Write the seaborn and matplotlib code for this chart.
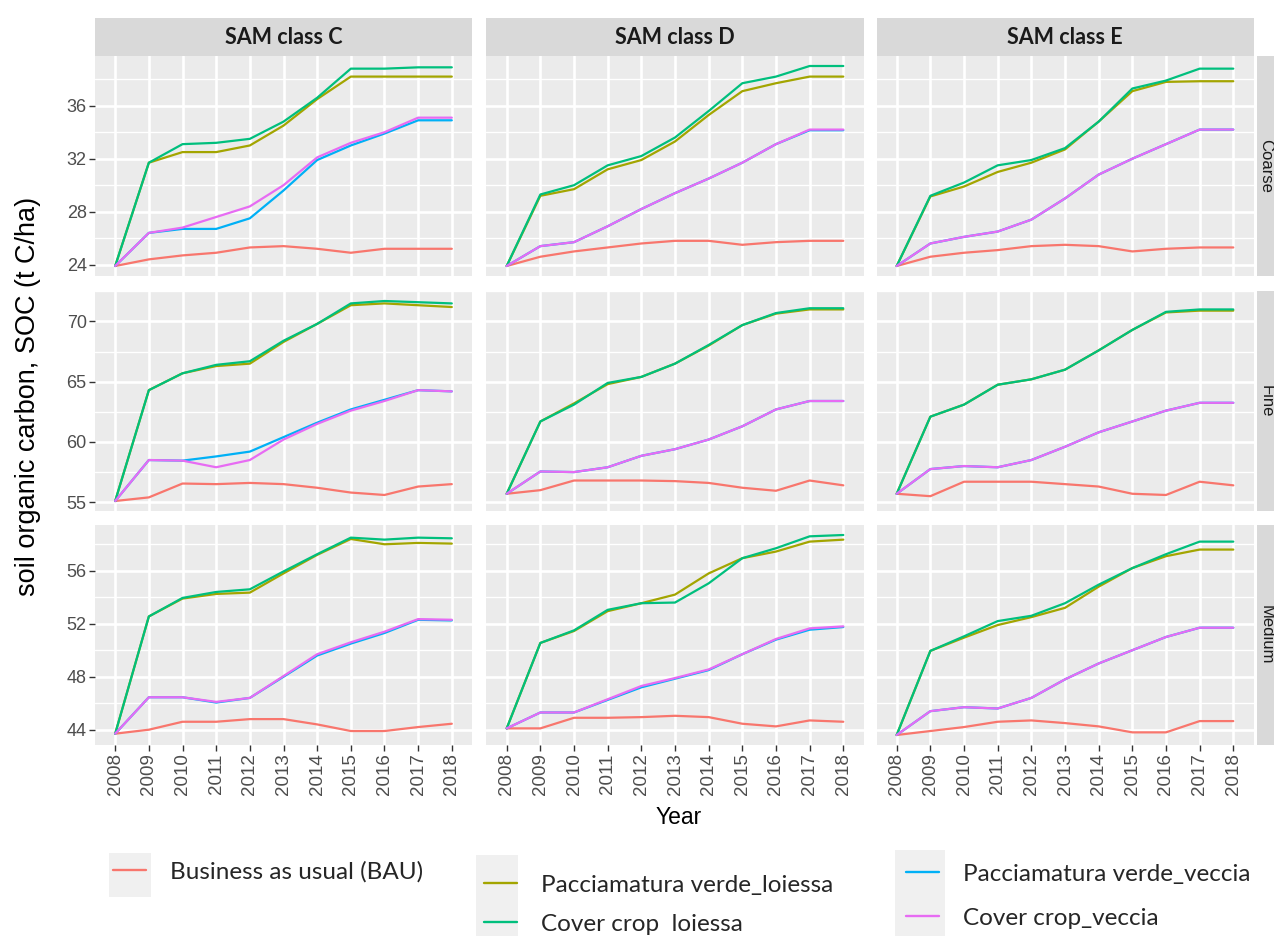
import matplotlib
matplotlib.use("Agg")
import matplotlib.pyplot as plt
from matplotlib.patches import Rectangle
from matplotlib.lines import Line2D
from matplotlib.ticker import MultipleLocator
import seaborn as sns
import pandas as pd

# ---------------- data ----------------
years = [2008, 2009, 2010, 2011, 2012, 2013, 2014, 2015, 2016, 2017, 2018]
treatments = ["Business as usual (BAU)", "Pacciamatura verde_loiessa", "Cover crop  loiessa",
              "Pacciamatura verde_veccia", "Cover crop_veccia"]
sam_classes = ["SAM class C", "SAM class D", "SAM class E"]
soil_classes = ["Coarse", "Fine", "Medium"]
colors = ["#F8766D", "#A3A500", "#00BF7D", "#00B0F6", "#E76BF3"]

# Coarse
coarse_C_bau = [23.9, 24.4, 24.7, 24.9, 25.3, 25.4, 25.2, 24.9, 25.2, 25.2, 25.2]
coarse_C_pl = [23.9, 31.7, 32.5, 32.5, 33.0, 34.5, 36.5, 38.2, 38.2, 38.2, 38.2]
coarse_C_cl = [23.9, 31.7, 33.1, 33.2, 33.5, 34.8, 36.6, 38.8, 38.8, 38.9, 38.9]
coarse_C_pv = [23.9, 26.4, 26.7, 26.7, 27.5, 29.6, 31.9, 33.0, 33.9, 34.9, 34.9]
coarse_C_cv = [23.9, 26.4, 26.8, 27.6, 28.4, 30.0, 32.1, 33.2, 34.0, 35.1, 35.1]

coarse_D_bau = [23.9, 24.6, 25.0, 25.3, 25.6, 25.8, 25.8, 25.5, 25.7, 25.8, 25.8]
coarse_D_pl = [23.9, 29.2, 29.7, 31.2, 31.9, 33.3, 35.3, 37.1, 37.7, 38.2, 38.2]
coarse_D_cl = [23.9, 29.3, 30.0, 31.5, 32.2, 33.6, 35.6, 37.7, 38.2, 39.0, 39.0]
coarse_D_pv = [23.9, 25.4, 25.7, 26.9, 28.2, 29.4, 30.5, 31.7, 33.1, 34.15, 34.15]
coarse_D_cv = [23.9, 25.4, 25.7, 26.9, 28.2, 29.4, 30.5, 31.7, 33.1, 34.2, 34.2]

coarse_E_bau = [23.9, 24.6, 24.9, 25.1, 25.4, 25.5, 25.4, 25.0, 25.2, 25.3, 25.3]
coarse_E_pl = [23.9, 29.15, 29.9, 31.0, 31.7, 32.7, 34.8, 37.1, 37.8, 37.85, 37.85]
coarse_E_cl = [23.9, 29.2, 30.2, 31.5, 31.9, 32.8, 34.8, 37.3, 37.9, 38.8, 38.8]
coarse_E_pv = [23.9, 25.6, 26.1, 26.5, 27.4, 29.0, 30.8, 32.0, 33.1, 34.2, 34.2]
coarse_E_cv = [23.9, 25.6, 26.1, 26.5, 27.4, 29.0, 30.8, 32.0, 33.1, 34.2, 34.2]

# Fine
fine_C_bau = [55.1, 55.4, 56.55, 56.5, 56.6, 56.5, 56.2, 55.8, 55.6, 56.3, 56.5]
fine_C_pl = [55.1, 64.3, 65.7, 66.3, 66.5, 68.3, 69.8, 71.35, 71.5, 71.35, 71.2]
fine_C_cl = [55.1, 64.3, 65.7, 66.4, 66.7, 68.4, 69.8, 71.5, 71.7, 71.6, 71.5]
fine_C_pv = [55.1, 58.5, 58.45, 58.8, 59.2, 60.4, 61.6, 62.7, 63.5, 64.3, 64.2]
fine_C_cv = [55.1, 58.5, 58.45, 57.9, 58.5, 60.2, 61.5, 62.6, 63.4, 64.3, 64.2]

fine_D_bau = [55.7, 56.0, 56.8, 56.8, 56.8, 56.75, 56.6, 56.2, 55.95, 56.8, 56.4]
fine_D_pl = [55.7, 61.7, 63.2, 64.8, 65.4, 66.5, 68.0, 69.7, 70.65, 71.0, 71.0]
fine_D_cl = [55.7, 61.7, 63.1, 64.9, 65.4, 66.5, 68.05, 69.7, 70.7, 71.1, 71.1]
fine_D_pv = [55.7, 57.55, 57.5, 57.9, 58.85, 59.4, 60.2, 61.3, 62.7, 63.4, 63.4]
fine_D_cv = [55.7, 57.55, 57.5, 57.9, 58.85, 59.4, 60.2, 61.3, 62.7, 63.4, 63.4]

fine_E_bau = [55.7, 55.5, 56.7, 56.7, 56.7, 56.5, 56.3, 55.7, 55.6, 56.7, 56.4]
fine_E_pl = [55.7, 62.1, 63.1, 64.75, 65.2, 66.0, 67.6, 69.3, 70.75, 70.9, 70.9]
fine_E_cl = [55.7, 62.1, 63.1, 64.75, 65.2, 66.0, 67.6, 69.3, 70.8, 71.0, 71.0]
fine_E_pv = [55.7, 57.75, 58.0, 57.9, 58.5, 59.6, 60.8, 61.7, 62.6, 63.25, 63.25]
fine_E_cv = [55.7, 57.75, 58.0, 57.9, 58.5, 59.6, 60.8, 61.7, 62.6, 63.25, 63.25]

# Medium
medium_C_bau = [43.7, 44.0, 44.6, 44.6, 44.8, 44.8, 44.4, 43.9, 43.9, 44.2, 44.45]
medium_C_pl = [43.7, 52.55, 53.9, 54.25, 54.35, 55.8, 57.2, 58.4, 58.0, 58.1, 58.05]
medium_C_cl = [43.7, 52.55, 53.95, 54.4, 54.6, 55.95, 57.25, 58.5, 58.35, 58.5, 58.45]
medium_C_pv = [43.7, 46.45, 46.45, 46.05, 46.4, 48.0, 49.6, 50.5, 51.3, 52.3, 52.25]
medium_C_cv = [43.7, 46.45, 46.45, 46.1, 46.4, 48.05, 49.7, 50.6, 51.4, 52.35, 52.3]

medium_D_bau = [44.1, 44.1, 44.9, 44.9, 44.95, 45.05, 44.95, 44.45, 44.25, 44.7, 44.6]
medium_D_pl = [44.1, 50.55, 51.45, 52.95, 53.55, 54.2, 55.8, 56.95, 57.45, 58.2, 58.35]
medium_D_cl = [44.1, 50.55, 51.5, 53.05, 53.55, 53.6, 55.05, 56.95, 57.7, 58.6, 58.7]
medium_D_pv = [44.1, 45.3, 45.3, 46.25, 47.2, 47.85, 48.5, 49.7, 50.8, 51.55, 51.75]
medium_D_cv = [44.1, 45.3, 45.3, 46.3, 47.3, 47.9, 48.55, 49.7, 50.85, 51.65, 51.8]

medium_E_bau = [43.6, 43.9, 44.2, 44.6, 44.7, 44.5, 44.25, 43.8, 43.8, 44.65, 44.65]
medium_E_pl = [43.6, 49.95, 50.95, 51.9, 52.5, 53.2, 54.8, 56.2, 57.1, 57.6, 57.6]
medium_E_cl = [43.6, 49.95, 51.05, 52.2, 52.6, 53.55, 54.95, 56.2, 57.25, 58.2, 58.2]
medium_E_pv = [43.6, 45.4, 45.7, 45.6, 46.4, 47.8, 49.0, 50.0, 51.0, 51.7, 51.7]
medium_E_cv = [43.6, 45.4, 45.7, 45.6, 46.4, 47.8, 49.0, 50.0, 51.0, 51.7, 51.7]

y_major = [4, 5, 4]

panels = {
    ("Coarse", "SAM class C"): [coarse_C_bau, coarse_C_pl, coarse_C_cl, coarse_C_pv, coarse_C_cv],
    ("Coarse", "SAM class D"): [coarse_D_bau, coarse_D_pl, coarse_D_cl, coarse_D_pv, coarse_D_cv],
    ("Coarse", "SAM class E"): [coarse_E_bau, coarse_E_pl, coarse_E_cl, coarse_E_pv, coarse_E_cv],
    ("Fine", "SAM class C"): [fine_C_bau, fine_C_pl, fine_C_cl, fine_C_pv, fine_C_cv],
    ("Fine", "SAM class D"): [fine_D_bau, fine_D_pl, fine_D_cl, fine_D_pv, fine_D_cv],
    ("Fine", "SAM class E"): [fine_E_bau, fine_E_pl, fine_E_cl, fine_E_pv, fine_E_cv],
    ("Medium", "SAM class C"): [medium_C_bau, medium_C_pl, medium_C_cl, medium_C_pv, medium_C_cv],
    ("Medium", "SAM class D"): [medium_D_bau, medium_D_pl, medium_D_cl, medium_D_pv, medium_D_cv],
    ("Medium", "SAM class E"): [medium_E_bau, medium_E_pl, medium_E_cl, medium_E_pv, medium_E_cv],
}

rows = []
for (soil, sam), series in panels.items():
    for t, vals in zip(treatments, series):
        for y, v in zip(years, vals):
            rows.append({"Soil": soil, "SAM": sam, "Treatment": t, "Year": y, "SOC": v})
df = pd.DataFrame(rows)

# ---------------- figure ----------------
sns.set_theme(style="darkgrid")
W, H = 1274, 936
fig = plt.figure(figsize=(W / 100, H / 100), dpi=100)
fig.patch.set_facecolor("white")

def fx(px):
    return px / W

def fy(py):
    return 1 - py / H

col_left = [95, 486.5, 876.5]
pw = 377
row_top = [56, 291, 525]
ph = 220
strip_h = 38

TICK_FONT = "Liberation Sans"
palette = dict(zip(treatments, colors))

for r, soil in enumerate(soil_classes):
    sub_row = df[df["Soil"] == soil]
    lo, hi = sub_row["SOC"].min(), sub_row["SOC"].max()
    pad = (hi - lo) * 0.05
    for c, sam in enumerate(sam_classes):
        ax = fig.add_axes([fx(col_left[c]), fy(row_top[r] + ph), fx(pw), ph / H])
        ax.set_facecolor("#EBEBEB")
        sub = sub_row[sub_row["SAM"] == sam]
        sns.lineplot(data=sub, x="Year", y="SOC", hue="Treatment", hue_order=treatments,
                     palette=palette, ax=ax, legend=False, linewidth=1.6, sort=True)
        ax.set_xlim(2007.4, 2018.6)
        ax.set_ylim(lo - pad, hi + pad)
        ax.set_xticks(years)
        ax.yaxis.set_major_locator(MultipleLocator(y_major[r]))
        ax.yaxis.set_minor_locator(MultipleLocator(y_major[r] / 2))
        ax.grid(which="major", color="white", linewidth=1.9)
        ax.grid(which="minor", axis="y", color="white", linewidth=1.0)
        ax.set_axisbelow(True)
        for s in ax.spines.values():
            s.set_visible(False)
        ax.set_xlabel("")
        ax.set_ylabel("")
        ax.tick_params(axis="both", which="major", length=4, width=1.0, color="#333333",
                       labelcolor="#4D4D4D", labelsize=13, pad=2, bottom=True, left=True)
        ax.tick_params(axis="both", which="minor", length=0)
        if c == 0:
            for lab in ax.get_yticklabels():
                lab.set_fontfamily(TICK_FONT)
        else:
            ax.tick_params(axis="y", which="major", length=0, labelleft=False)
        if r == 2:
            ax.set_xticklabels([str(y) for y in years], rotation=90, fontfamily=TICK_FONT,
                               fontsize=13.5)
        else:
            ax.tick_params(axis="x", which="major", length=0, labelbottom=False)

        # top strips
        if r == 0:
            sax = fig.add_axes([fx(col_left[c]), fy(row_top[0]), fx(pw), strip_h / H])
            sax.set_facecolor("#D9D9D9")
            sax.grid(False)
            sax.set_xticks([])
            sax.set_yticks([])
            for s in sax.spines.values():
                s.set_visible(False)
            sax.text(0.5, 0.5, sam, ha="center", va="center", fontsize=15.5,
                     fontweight="bold", fontfamily="Lato", color="#1A1A1A",
                     transform=sax.transAxes)
    # right strips (cut by the figure edge, as in the reference)
    rax = fig.add_axes([fx(1257), fy(row_top[r] + ph), fx(strip_h), ph / H])
    rax.set_facecolor("#D9D9D9")
    rax.grid(False)
    rax.set_xticks([])
    rax.set_yticks([])
    for s in rax.spines.values():
        s.set_visible(False)
    fig.text(fx(1266), fy(row_top[r] + ph / 2), soil, ha="center", va="center",
             rotation=-90, fontsize=12, fontfamily=TICK_FONT, color="#1A1A1A")

# axis titles
fig.text(fx(28), fy(396), "soil organic carbon, SOC (t C/ha)", rotation=90, ha="center",
         va="center", fontsize=19.5, fontfamily=TICK_FONT, color="black")
fig.text(fx(679), fy(817), "Year", ha="center", va="center", fontsize=16.5,
         fontfamily=TICK_FONT, color="black")

# legend key backgrounds
for (x0, y0, x1, y1) in [(109, 853, 151, 897), (476, 855, 518, 940), (895, 850, 945, 940)]:
    fig.add_artist(Rectangle((fx(x0), fy(y1)), fx(x1 - x0), (y1 - y0) / H,
                             transform=fig.transFigure, facecolor="#F0F0F0",
                             edgecolor="none", zorder=0))

# legends (one entry each, placed like the reference)
legend_pos = [(113, 872), (484, 885), (484, 924), (906, 874), (906, 918)]
fs = 17.5
for t, col, (lx, ly) in zip(treatments, colors, legend_pos):
    h = Line2D([], [], color=col, linewidth=1.7)
    fig.legend(handles=[h], labels=[t], loc="center left",
               bbox_to_anchor=(fx(lx), fy(ly)), bbox_transform=fig.transFigure,
               frameon=False, borderpad=0, borderaxespad=0, handlelength=1.35,
               handletextpad=1.0, prop={"family": "Lato", "size": fs})

fig.savefig("out.png", dpi=100, facecolor="white")
